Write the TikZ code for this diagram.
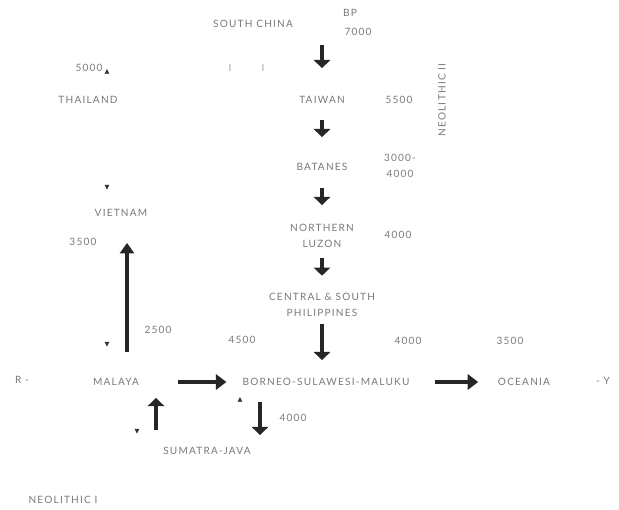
\documentclass[tikz,border=0pt]{standalone}
\usepackage{fontspec}
\setmainfont{Lato}[LetterSpace=12]
\newfontfamily\marksfont{DejaVu Sans}
\usetikzlibrary{arrows.meta}

\begin{document}
\begin{tikzpicture}[x=0.03cm, y=-0.03cm,
  lbl/.style={text=black!52, inner sep=0pt, align=center, font=\fontsize{8.6}{13.5}\selectfont},
  tri/.style={text=black!80, inner sep=0pt, font=\marksfont\fontsize{5.5}{5.5}\selectfont},
  shortarr/.style={draw=black!85, line width=3.2pt, -{Triangle[width=14pt,length=7pt]}},
  longarr/.style={draw=black!85, line width=2.6pt, -{Triangle[width=12pt,length=9pt]}},
  sidearr/.style={draw=black!85, line width=3.4pt, -{Triangle[width=13pt,length=9pt]}}]
  \path[fill=white] (0,0) rectangle (619,510);
  \useasboundingbox (0,0) rectangle (619,510);

  % the chain down from South China
  \node[lbl] (china) at (253,24) {SOUTH CHINA};
  \node[lbl] (bp) at (350,13) {BP};
  \node[lbl] (bp7000) at (358,32) {7000};
  \node[lbl] (taiwan) at (322,100) {TAIWAN};
  \node[lbl] (tw5500) at (399,100) {5500};
  \node[lbl, rotate=90] (neo2) at (442,100) {NEOLITHIC II};
  \node[lbl] (batanes) at (322,167) {BATANES};
  \node[lbl] (bt3000) at (400,166) {3000-\\4000};
  \node[lbl] (luzon) at (322,236) {NORTHERN\\LUZON};
  \node[lbl] (lz4000) at (398,235) {4000};
  \node[lbl] (central) at (322,305) {CENTRAL \& SOUTH\\PHILIPPINES};

  % the row across
  \node[lbl] (rlbl) at (22,380) {R -};
  \node[lbl] (malaya) at (116,382) {MALAYA};
  \node[lbl] (borneo) at (326,382) {BORNEO-SULAWESI-MALUKU};
  \node[lbl] (oceania) at (524,382) {OCEANIA};
  \node[lbl] (ylbl) at (603,381) {- Y};
  \node[lbl] (m2500) at (158,330) {2500};
  \node[lbl] (b4500) at (242,340) {4500};
  \node[lbl] (b4000) at (408,341) {4000};
  \node[lbl] (o3500) at (510,341) {3500};

  % the mainland side
  \node[lbl] (t5000) at (89,68) {5000};
  \node[lbl] (thailand) at (88,100) {THAILAND};
  \node[lbl] (vietnam) at (121,213) {VIETNAM};
  \node[lbl] (v3500) at (83,242) {3500};
  \node[lbl] (sumatra) at (207,451) {SUMATRA-JAVA};
  \node[lbl] (s4000) at (293,418) {4000};
  \node[lbl] (neo1) at (63,500) {NEOLITHIC I};

  % small marks
  \node[lbl, text=black!35] (bar1) at (230,68) {I};
  \node[lbl, text=black!35] (bar2) at (263,68) {I};
  \node[tri] (tri1) at (107,72) {▲};
  \node[tri] (tri2) at (107,188) {▼};
  \node[tri] (tri3) at (107,345) {▼};
  \node[tri] (tri4) at (137,432) {▼};
  \node[tri] (tri5) at (240,400) {▲};

  % arrows
  \draw[shortarr, shorten <=17.9pt, shorten >=27.2pt] (china -| taiwan) -- (taiwan.center);
  \draw[shortarr, shorten <=17pt, shorten >=25.5pt] (taiwan.center) -- (batanes.center);
  \draw[shortarr, shorten <=17.9pt, shorten >=26.4pt] (batanes.center) -- (luzon.center);
  \draw[shortarr, shorten <=18.7pt, shorten >=25pt] (luzon.center) -- (central.center);
  \draw[shortarr, shorten <=16.6pt, shorten >=18.7pt] (central.center) -- (central |- borneo);
  \draw[sidearr, shorten <=52.7pt, shorten >=85pt] (malaya.center) -- (borneo.center);
  \draw[sidearr, shorten <=92.7pt, shorten >=39.1pt] (borneo.center) -- (oceania.center);
  \draw[longarr, transform canvas={xshift=9.4pt}, shorten <=25.5pt, shorten >=25.5pt] (malaya.center) -- (malaya |- vietnam);
  \coordinate (sjup) at (156,430);
  \coordinate (sjdown) at (260,402);
  \draw[shortarr, shorten >=13.6pt] (sjup) -- (sjup |- malaya);
  \draw[shortarr, shorten >=13.6pt] (sjdown) -- (sjdown |- sumatra);
\end{tikzpicture}
\end{document}
